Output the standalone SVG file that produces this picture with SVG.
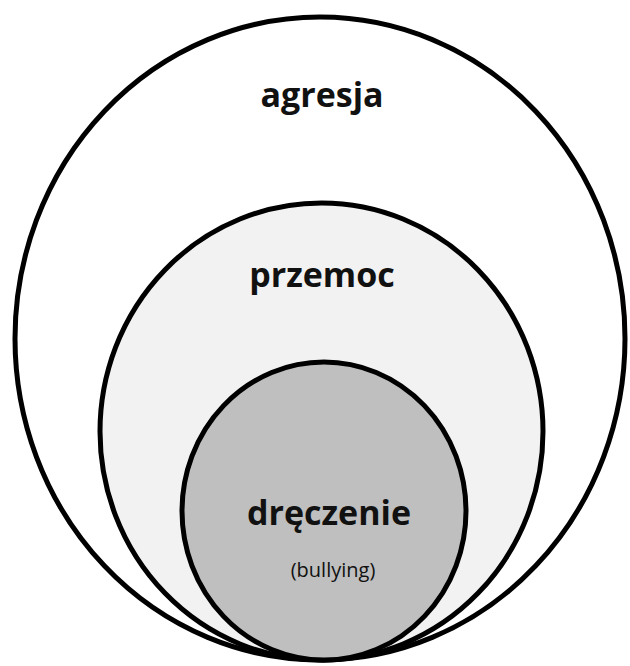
<svg xmlns="http://www.w3.org/2000/svg" width="630" height="666" viewBox="0 0 630 666">
<style>
.c{stroke:#000;stroke-width:5}
.t{font-family:"Open Sans","Noto Sans","Liberation Sans",sans-serif;fill:#111;text-anchor:middle}
.b{font-weight:bold}
</style>
<rect width="630" height="666" fill="#fff"/>
<g id="agresja">
<ellipse class="c" cx="320" cy="338.5" rx="305" ry="321.5" fill="#fff"/>
<text class="t b" x="322" y="107" font-size="34">agresja</text>
</g>
<g id="przemoc">
<ellipse class="c" cx="321.5" cy="431.5" rx="221.5" ry="228.5" fill="#f2f2f2"/>
<text class="t b" x="322" y="287" font-size="34">przemoc</text>
</g>
<g id="dreczenie">
<ellipse class="c" cx="324" cy="511" rx="142" ry="149" fill="#bfbfbf"/>
<text class="t b" x="329" y="525" font-size="34">dręczenie</text>
<text class="t" x="333" y="577" font-size="20">(bullying)</text>
</g>
<g id="connectors"/>
</svg>
